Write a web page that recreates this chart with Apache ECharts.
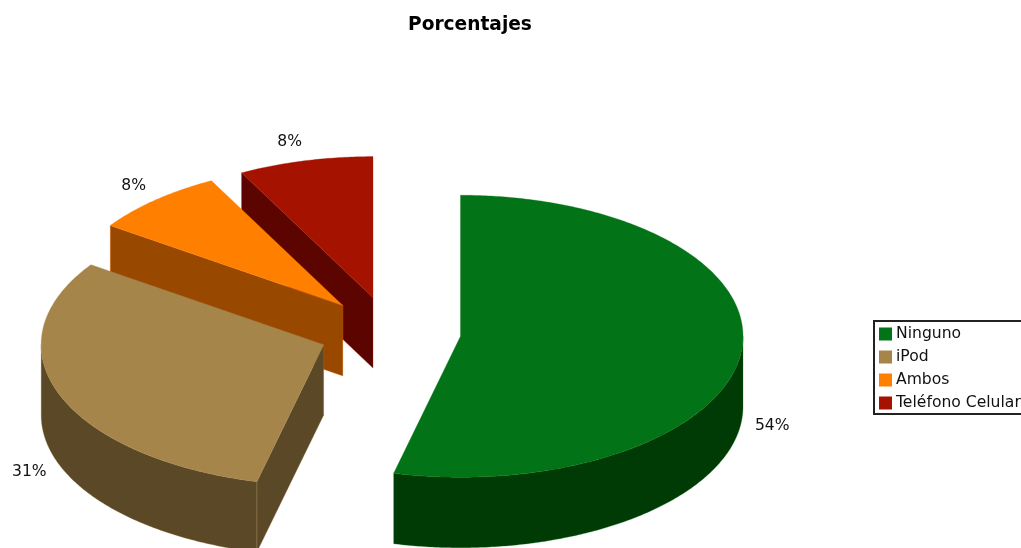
<!DOCTYPE html>
<html>
<head>
<meta charset="utf-8">
<title>Porcentajes</title>
<style>html,body{margin:0;padding:0;background:#fff;overflow:hidden}#chart{width:1021px;height:548px}</style>
<script src="https://cdn.jsdelivr.net/npm/echarts@6/dist/echarts.min.js"></script>
</head>
<body>
<div id="chart"></div>
<script>
// Survey answers, in percent
const categories = ['Ninguno', 'iPod', 'Ambos', 'Teléfono Celular'];
const percentages = [53.8, 30.8, 7.7, 7.7];
const topColors = ['#027316', '#a5854a', '#ff7f00', '#a51300'];
const sideColors = ['#003a05', '#5b4827', '#994800', '#5c0500'];

// Projection of the tilted pie
const FONT = '"DejaVu Sans", Verdana, sans-serif';
const CX = 390, CY = 332, RX = 282.5, RY = 141, DEPTH = 70.5, EXPLODE = 71;
const total = percentages.reduce((a, b) => a + b, 0);

// Turn a clockwise angle from twelve o'clock into a point on the ellipse
const onRim = (c, t) => [c[0] + RX * Math.sin(t), c[1] - RY * Math.cos(t)];
const down = p => [p[0], p[1] + DEPTH];

function arcPoints(c, a, b) {
  const pts = [];
  const n = Math.max(2, Math.ceil(Math.abs(b - a) / 0.01));
  for (let i = 0; i <= n; i++) pts.push(onRim(c, a + (b - a) * i / n));
  return pts;
}

function sliceAngles(index) {
  let start = 0;
  for (let i = 0; i < index; i++) start += percentages[i];
  return [start / total * 2 * Math.PI, (start + percentages[index]) / total * 2 * Math.PI];
}

function renderSlice(params, api) {
  const i = params.seriesIndex;
  const [a, b] = sliceAngles(i);
  const mid = (a + b) / 2;
  const c = [CX + EXPLODE * Math.sin(mid), CY - EXPLODE * (RY / RX) * Math.cos(mid)];
  const side = { fill: sideColors[i], stroke: topColors[i], lineWidth: 0.3 };
  const children = [];
  const poly = (points, style) => children.push({ type: 'polygon', shape: { points }, style });

  // A cut face shows only when its extrusion falls outside the wedge
  if (Math.sin(a) < -1e-9) poly([c, onRim(c, a), down(onRim(c, a)), down(c)], side);
  if (Math.sin(b) > 1e-9) poly([c, onRim(c, b), down(onRim(c, b)), down(c)], side);

  // Outer wall, only along the front half of the rim
  const wallA = Math.max(a, Math.PI / 2), wallB = Math.min(b, Math.PI * 1.5);
  if (wallB > wallA) {
    const rim = arcPoints(c, wallA, wallB);
    poly(rim.concat(rim.map(down).reverse()), side);
  }

  // Top surface
  poly([c].concat(arcPoints(c, a, b)), { fill: topColors[i], stroke: topColors[i], lineWidth: 0.3 });

  // Rounded percentage beside the slice, pushed below the wall on the front half
  const lowerHalf = Math.cos(mid) < 0;
  children.push({
    type: 'text',
    style: {
      x: c[0] + (RX + 14) * Math.sin(mid),
      y: c[1] - (RY + 19) * Math.cos(mid) + (lowerHalf ? DEPTH : 0),
      text: Math.round(api.value(0)) + '%',
      fill: '#111',
      font: '15.6px ' + FONT,
      align: Math.sin(mid) < 0 ? 'right' : 'left',
      verticalAlign: 'middle'
    }
  });
  return { type: 'group', children };
}

const chart = echarts.init(document.getElementById('chart'), null, { renderer: 'canvas' });
chart.setOption({
  animation: false,
  backgroundColor: '#fff',
  title: {
    text: 'Porcentajes',
    left: 403,
    top: 11,
    textStyle: { fontFamily: FONT, fontSize: 18.6, fontWeight: 'bold', color: '#000' }
  },
  legend: {
    orient: 'vertical',
    left: 874,
    top: 321,
    padding: [4, 8, 2, 5],
    itemGap: 5,
    itemWidth: 13,
    itemHeight: 13,
    borderColor: '#222',
    borderWidth: 2,
    borderRadius: 0,
    backgroundColor: '#fff',
    selectedMode: false,
    icon: 'rect',
    textStyle: { fontFamily: FONT, fontSize: 15.6, color: '#111', padding: [0, 0, 0, -1], lineHeight: 18 },
    data: categories
  },
  series: categories.map((name, i) => ({
    type: 'custom',
    name,
    coordinateSystem: 'none',
    silent: true,
    z: 2 + (categories.length - i),
    itemStyle: { color: topColors[i] },
    renderItem: renderSlice,
    data: [[percentages[i]]]
  }))
});
</script>
</body>
</html>
